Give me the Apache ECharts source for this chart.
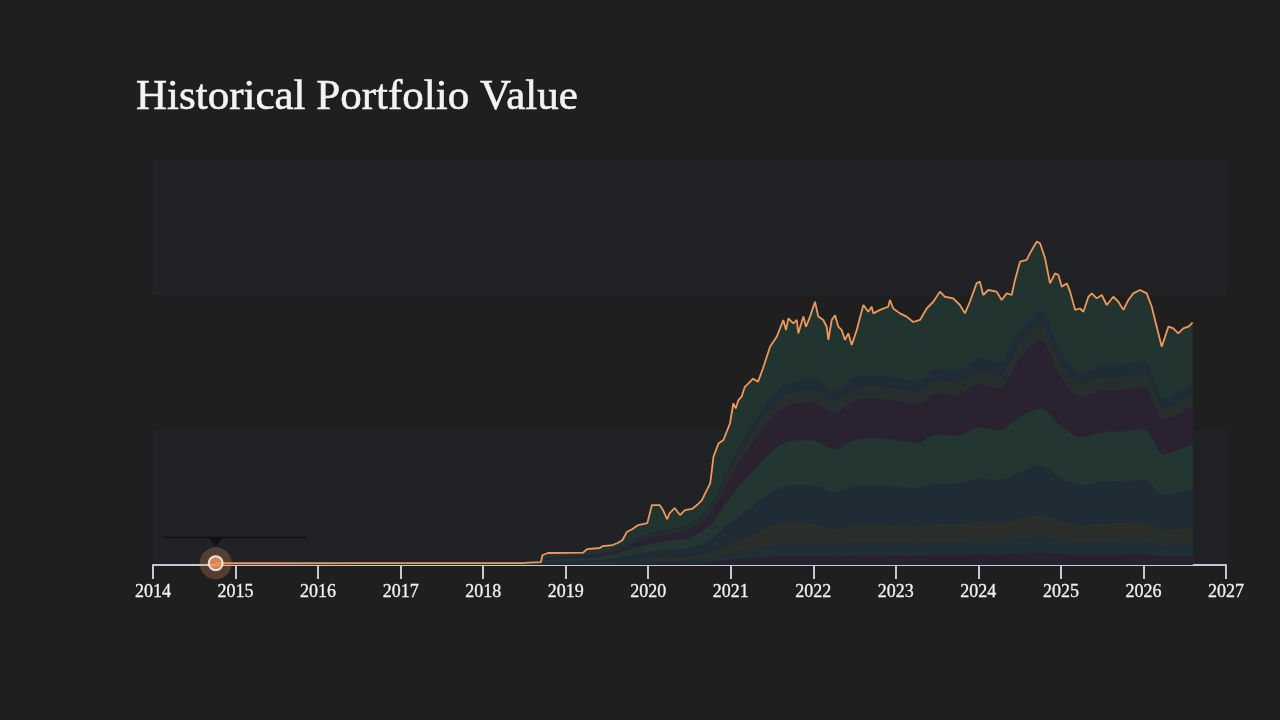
<!DOCTYPE html>
<html>
<head>
<meta charset="utf-8">
<script src="https://cdn.jsdelivr.net/npm/echarts@6/dist/echarts.min.js"></script>
<style>
html,body{margin:0;padding:0;background:#1f1f1f;}
#chart{width:1280px;height:720px;}
</style>
</head>
<body>
<div id="chart"></div>
<script>
// ---- data (x positions are decimal years) ----
const yearLabels = ['2014','2015','2016','2017','2018','2019','2020','2021','2022','2023','2024','2025','2026','2027'];

const totalYears = [2014.76,2015.5,2016.5,2017.5,2018.5,2018.62,2018.70,2018.72,2018.785,2019.0,2019.21,2019.26,2019.415,2019.45,2019.57,2019.63,2019.69,2019.74,2019.81,2019.88,2019.99,2020.045,2020.14,2020.18,2020.23,2020.26,2020.32,2020.385,2020.445,2020.53,2020.59,2020.65,2020.71,2020.75,2020.77,2020.79,2020.85,2020.91,2020.99,2021.03,2021.06,2021.09,2021.13,2021.17,2021.27,2021.33,2021.39,2021.475,2021.556,2021.636,2021.669,2021.697,2021.757,2021.799,2021.818,2021.879,2021.911,2021.96,2022.02,2022.06,2022.121,2022.162,2022.182,2022.223,2022.263,2022.303,2022.344,2022.384,2022.424,2022.465,2022.526,2022.606,2022.666,2022.707,2022.727,2022.808,2022.908,2022.929,2022.969,2023.05,2023.131,2023.211,2023.293,2023.374,2023.454,2023.535,2023.595,2023.696,2023.777,2023.838,2023.898,2023.979,2024.019,2024.059,2024.12,2024.222,2024.282,2024.343,2024.403,2024.443,2024.504,2024.585,2024.625,2024.706,2024.746,2024.807,2024.867,2024.928,2024.968,2025.009,2025.07,2025.11,2025.17,2025.231,2025.271,2025.332,2025.372,2025.433,2025.494,2025.554,2025.634,2025.695,2025.756,2025.816,2025.877,2025.958,2026.039,2026.1,2026.16,2026.221,2026.261,2026.301,2026.362,2026.422,2026.482,2026.543,2026.596];
const totalValues = [1.3,1.3,1.4,1.4,1.5,2.0,2.2,7.4,8.9,9.0,9.1,11.8,12.6,14,14.8,16.3,18.5,24.4,26.7,29.6,31,44.4,44.4,40.7,34,38.5,42.2,37,40.7,41.5,44.4,48,55.6,60.5,70,80.2,90,92.6,105,119.8,116,122,124.7,132,138,135.8,145.7,161.7,169,181.5,174,182.7,179,181.5,171.6,184,176.5,184,195,184,181.5,176.5,166.7,181.5,185,176.5,174,166.7,171.6,163,174,192.6,187.6,191.3,186.4,189,191.3,196.3,190,186.4,184,180,181.5,190,195,202.5,198.7,197.5,192.6,186.4,195,208.6,209.9,200,203.7,202.5,196.3,201.2,200,211,224.7,226,231,239.5,238.3,227.2,208.6,216,214.8,206.2,208.6,202.5,189,190,187.6,198.7,201.2,197.5,200,192.6,198.7,195,189,196.3,201.2,203.7,201.2,191.3,176.5,161.7,169,176.5,175.3,171.6,175.3,176.5,179.5];

const layerYears = [2018.72,2019.0,2019.25,2019.5,2019.75,2020.0,2020.25,2020.5,2020.75,2021.0,2021.25,2021.5,2021.75,2022.0,2022.25,2022.5,2022.75,2023.0,2023.25,2023.5,2023.75,2024.0,2024.25,2024.5,2024.75,2025.0,2025.25,2025.5,2025.75,2026.0,2026.25,2026.5,2026.596];
const layer1 = [0.3,0.4,0.4,0.5,0.9,1.2,1.4,1.6,2.3,4,5.3,6.3,6.9,7,6.7,7.3,7.4,7.3,7.1,7.6,7.5,8,7.8,8.6,9.5,8.1,7.4,7.7,7.8,7.9,6.4,6.8,7];
const layer2 = [0.35,0.45,0.5,0.7,1.1,1.5,1.8,2,2.9,5,6.7,7.9,8.6,8.8,8.4,9.1,9.2,9.1,8.9,9.5,9.4,10,9.8,10.8,11.5,10.1,9.3,9.7,9.7,9.9,8,8.6,8.8];
const layer3 = [0.5,0.6,0.7,0.9,1.5,2.1,2.5,2.8,4.1,7,10,15,16.3,15,11.8,12.7,12.9,12.7,12.5,13.3,13.2,14,13.7,15,16.1,14.1,13,13.5,13.6,13.8,11.3,12,12.3];
const layer4 = [1.1,1.4,1.7,2.2,3.5,4.8,5.6,6.4,9.3,16,21.3,25.3,27.5,28.2,26.9,29.1,29.4,29.1,28.5,30.4,30.1,32,31.4,34.4,36.8,32.3,29.8,30.9,31,31.5,25.8,27.4,28.2];
const layer5 = [1.3,1.7,2,2.6,4.2,5.7,6.7,7.6,11,19,25.3,30,32.7,33.4,31.9,34.6,35,34.6,33.8,36.1,35.7,38,37.2,40.9,42,38.4,35.3,36.7,36.9,37.4,30.6,32.5,33.4];
const layer6 = [1.1,1.4,1.7,2.2,3.5,4.8,5.6,6.4,9.3,16,21.3,25.3,27.5,28.2,26.9,29.1,29.4,29.1,28.5,30.4,30.1,32,31.4,43,50.6,36.4,29.8,30.9,31,31.5,25.8,27.4,28.2];
const layer7 = [0.35,0.45,0.5,0.7,1.1,1.5,1.8,2,2.9,5,6.7,7.9,8.6,8.8,8.4,9.1,9.2,9.1,8.9,9.5,9.4,10,9.8,10.8,11.5,10.1,9.3,9.7,9.7,9.9,8,8.6,8.8];
const layer8 = [0.3,0.4,0.5,0.6,1,1.4,1.6,1.8,2.6,4.5,6,7.1,7.7,7.9,7.6,8.2,8.3,8.2,8,8.6,8.5,9,8.8,9.7,10.4,9.1,8.4,8.7,8.7,8.9,7.2,7.7,7.9];

const markerYear = 2014.76;
const markerValue = 1.3;
const guideYears = [2014.12, 2015.86];
const guideValue = 20.4;
const pointerValue = 17.3;

// ---- styles ----
const layerColors = ['#2a2130','#1f2f35','#2a2f2b','#1f2c36','#233631','#2a2230','#272f2e','#1f2c36'];
const topColor = '#213430';
const lineColor = '#f0985c';
const axisColor = '#c8c8d4';

// decimal year -> timestamp (UTC), so the time axis places marks
const toTime = y => {
  const yr = Math.floor(y);
  const a = Date.UTC(yr, 0, 1), b = Date.UTC(yr + 1, 0, 1);
  return a + (y - yr) * (b - a);
};
const zip = (xs, ys) => xs.map((x, i) => [toTime(x), ys[i]]);
const layers = [layer1, layer2, layer3, layer4, layer5, layer6, layer7, layer8];

const series = [];
series.push({
  type: 'line', data: zip(totalYears, totalValues), showSymbol: false, silent: true,
  lineStyle: { width: 0 }, areaStyle: { color: topColor, opacity: 1 }, z: 1
});
layers.forEach((vals, i) => {
  series.push({
    type: 'line', stack: 'holdings', data: zip(layerYears, vals), showSymbol: false, silent: true,
    smooth: 0.3, lineStyle: { width: 0 }, areaStyle: { color: layerColors[i], opacity: 1 }, z: 2
  });
});
series.push({
  type: 'line', data: zip(totalYears, totalValues), showSymbol: false, silent: true,
  lineStyle: { width: 1.8, color: lineColor }, z: 5
});
series.push({
  type: 'line', data: guideYears.map(x => [toTime(x), guideValue]), showSymbol: false, silent: true,
  lineStyle: { width: 1.5, color: '#131313' }, z: 6
});
series.push({
  type: 'scatter', data: [[toTime(markerYear), pointerValue]], symbol: 'triangle', symbolRotate: 180,
  symbolSize: [15, 9], itemStyle: { color: '#0e0e0e' }, silent: true, z: 6
});
series.push({
  type: 'scatter', data: [[toTime(markerYear), markerValue]], symbolSize: 32,
  itemStyle: { color: 'rgba(235,145,88,0.32)' }, silent: true, z: 7
});
series.push({
  type: 'scatter', data: [[toTime(markerYear), markerValue]], symbolSize: 14,
  itemStyle: { color: lineColor, borderColor: '#ffffff', borderWidth: 2 }, silent: true, z: 8
});

const chart = echarts.init(document.getElementById('chart'));
chart.setOption({
  backgroundColor: '#1f1f1f',
  animation: false,
  useUTC: true,
  title: {
    text: 'Historical Portfolio Value', left: 131, top: 71,
    textStyle: { fontFamily: 'Liberation Serif', fontSize: 43, fontWeight: 'normal', color: '#f3f3f3',
      textBorderColor: '#f3f3f3', textBorderWidth: 0.6 }
  },
  grid: { left: 153, right: 54, top: 160, bottom: 155 },
  xAxis: {
    type: 'time', min: toTime(2014), max: toTime(2027),
    minInterval: 365 * 86400000, maxInterval: 366 * 86400000,
    axisLine: { show: true, lineStyle: { color: axisColor, width: 2 } },
    axisTick: { show: true, length: 14, lineStyle: { color: axisColor, width: 2 } },
    axisLabel: {
      margin: 18, color: '#f2f2f2', fontFamily: 'Liberation Serif', fontSize: 18,
      textBorderColor: '#f2f2f2', textBorderWidth: 0.3,
      showMinLabel: true, showMaxLabel: true,
      formatter: v => yearLabels[new Date(v).getUTCFullYear() - 2014]
    },
    splitLine: { show: false }
  },
  yAxis: {
    type: 'value', min: 0, max: 300, interval: 100,
    axisLine: { show: false }, axisTick: { show: false }, axisLabel: { show: false },
    splitLine: { show: false },
    splitArea: { show: true, areaStyle: { color: ['#212226', 'rgba(0,0,0,0)'] } }
  },
  series: series
});
</script>
</body>
</html>
